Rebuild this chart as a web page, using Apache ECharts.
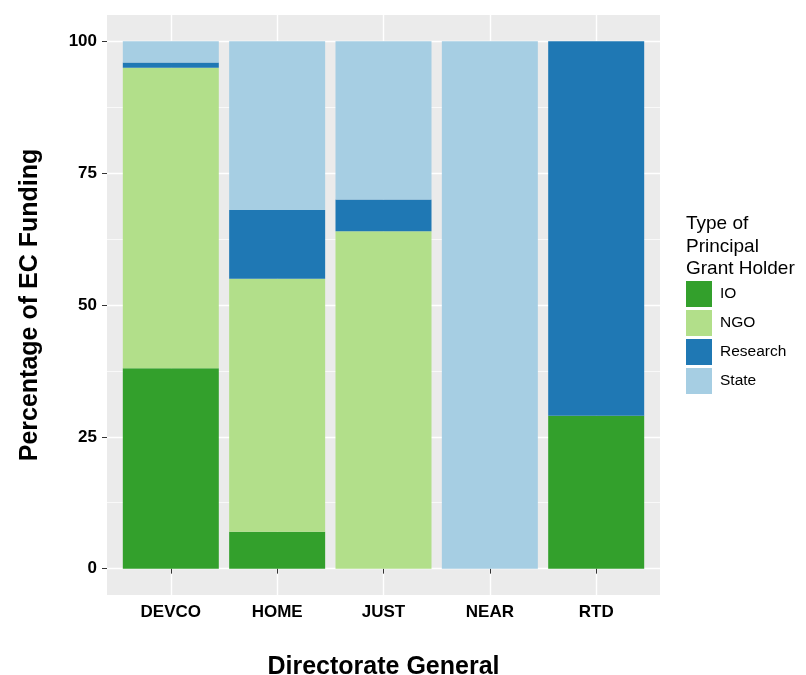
<!DOCTYPE html>
<html>
<head>
<meta charset="utf-8">
<script src="https://cdn.jsdelivr.net/npm/echarts@6/dist/echarts.min.js"></script>
<style>html,body{margin:0;padding:0;background:#fff}#c{width:806px;height:675px}</style>
</head>
<body>
<div id="c"></div>
<script>
const categories = ['DEVCO', 'HOME', 'JUST', 'NEAR', 'RTD'];
const holderTypes = ['IO', 'NGO', 'Research', 'State'];
const ioShare = [38, 7, 0, 0, 29];
const ngoShare = [57, 48, 64, 0, 0];
const researchShare = [1, 13, 6, 0, 71];
const stateShare = [4, 32, 30, 100, 0];
const yTicks = [0, 25, 50, 75, 100];
const yMinorGrid = [12.5, 37.5, 62.5, 87.5];

const colors = ['#33a02c', '#b2df8a', '#1f78b4', '#a6cee3'];
const seriesValues = [ioShare, ngoShare, researchShare, stateShare];
const positions = categories.map((c, i) => i + 1);
const FONT = 'Liberation Sans, Arial, sans-serif';

const chart = echarts.init(document.getElementById('c'), null, {renderer: 'canvas'});
chart.setOption({
  animation: false,
  textStyle: {fontFamily: FONT},
  title: {
    text: 'Type of\nPrincipal\nGrant Holder',
    left: 686, top: 213, padding: 0,
    textStyle: {fontFamily: FONT, fontSize: 19, fontWeight: 'normal', color: '#000', lineHeight: 22.5}
  },
  legend: {
    data: holderTypes,
    orient: 'vertical',
    left: 686, top: 281, padding: 0,
    itemWidth: 26, itemHeight: 26, itemGap: 3,
    icon: 'rect',
    textStyle: {fontFamily: FONT, fontSize: 15.5, color: '#000', padding: [0, 0, 0, 3]}
  },
  grid: {
    left: 107, top: 15, width: 553, height: 580,
    outerBoundsMode: 'none', containLabel: false,
    show: true, backgroundColor: '#ebebeb', borderWidth: 0
  },
  xAxis: {
    type: 'value', min: 0.4, max: 5.6,
    name: 'Directorate General', nameLocation: 'middle', nameGap: 60,
    nameTextStyle: {fontFamily: FONT, fontSize: 25, fontWeight: 'bold', color: '#000'},
    axisLine: {show: false},
    axisTick: {show: true, customValues: positions, length: 5, lineStyle: {color: '#333', width: 1}},
    axisLabel: {
      customValues: positions, margin: 9,
      formatter: v => categories[Math.round(v) - 1],
      fontFamily: FONT, fontSize: 17, fontWeight: 'bold', color: '#000'
    },
    splitLine: {show: true, lineStyle: {color: '#fff', width: 1.4}}
  },
  yAxis: [{
    type: 'value', min: -5, max: 105,
    name: 'Percentage of EC Funding', nameLocation: 'middle', nameGap: 64,
    nameTextStyle: {fontFamily: FONT, fontSize: 25, fontWeight: 'bold', color: '#000'},
    axisLine: {show: false},
    axisTick: {show: true, customValues: yTicks, length: 5, lineStyle: {color: '#333', width: 1}},
    axisLabel: {customValues: yTicks, margin: 10, fontFamily: FONT, fontSize: 17, fontWeight: 'bold', color: '#000'},
    splitLine: {show: true, lineStyle: {color: '#fff', width: 1.4}}
  }, {
    type: 'value', min: -5, max: 105,
    axisLine: {show: false},
    axisTick: {show: false, customValues: yMinorGrid},
    axisLabel: {show: false, customValues: yMinorGrid},
    splitLine: {show: true, lineStyle: {color: '#fff', width: 0.7}}
  }],
  series: holderTypes.map((name, k) => ({
    name: name,
    type: 'bar',
    stack: 'share',
    barWidth: 96,
    yAxisIndex: 0,
    itemStyle: {color: colors[k]},
    encode: {x: 1, y: 0},
    data: seriesValues[k].map((v, i) => [v, positions[i]])
  }))
});
</script>
</body>
</html>
